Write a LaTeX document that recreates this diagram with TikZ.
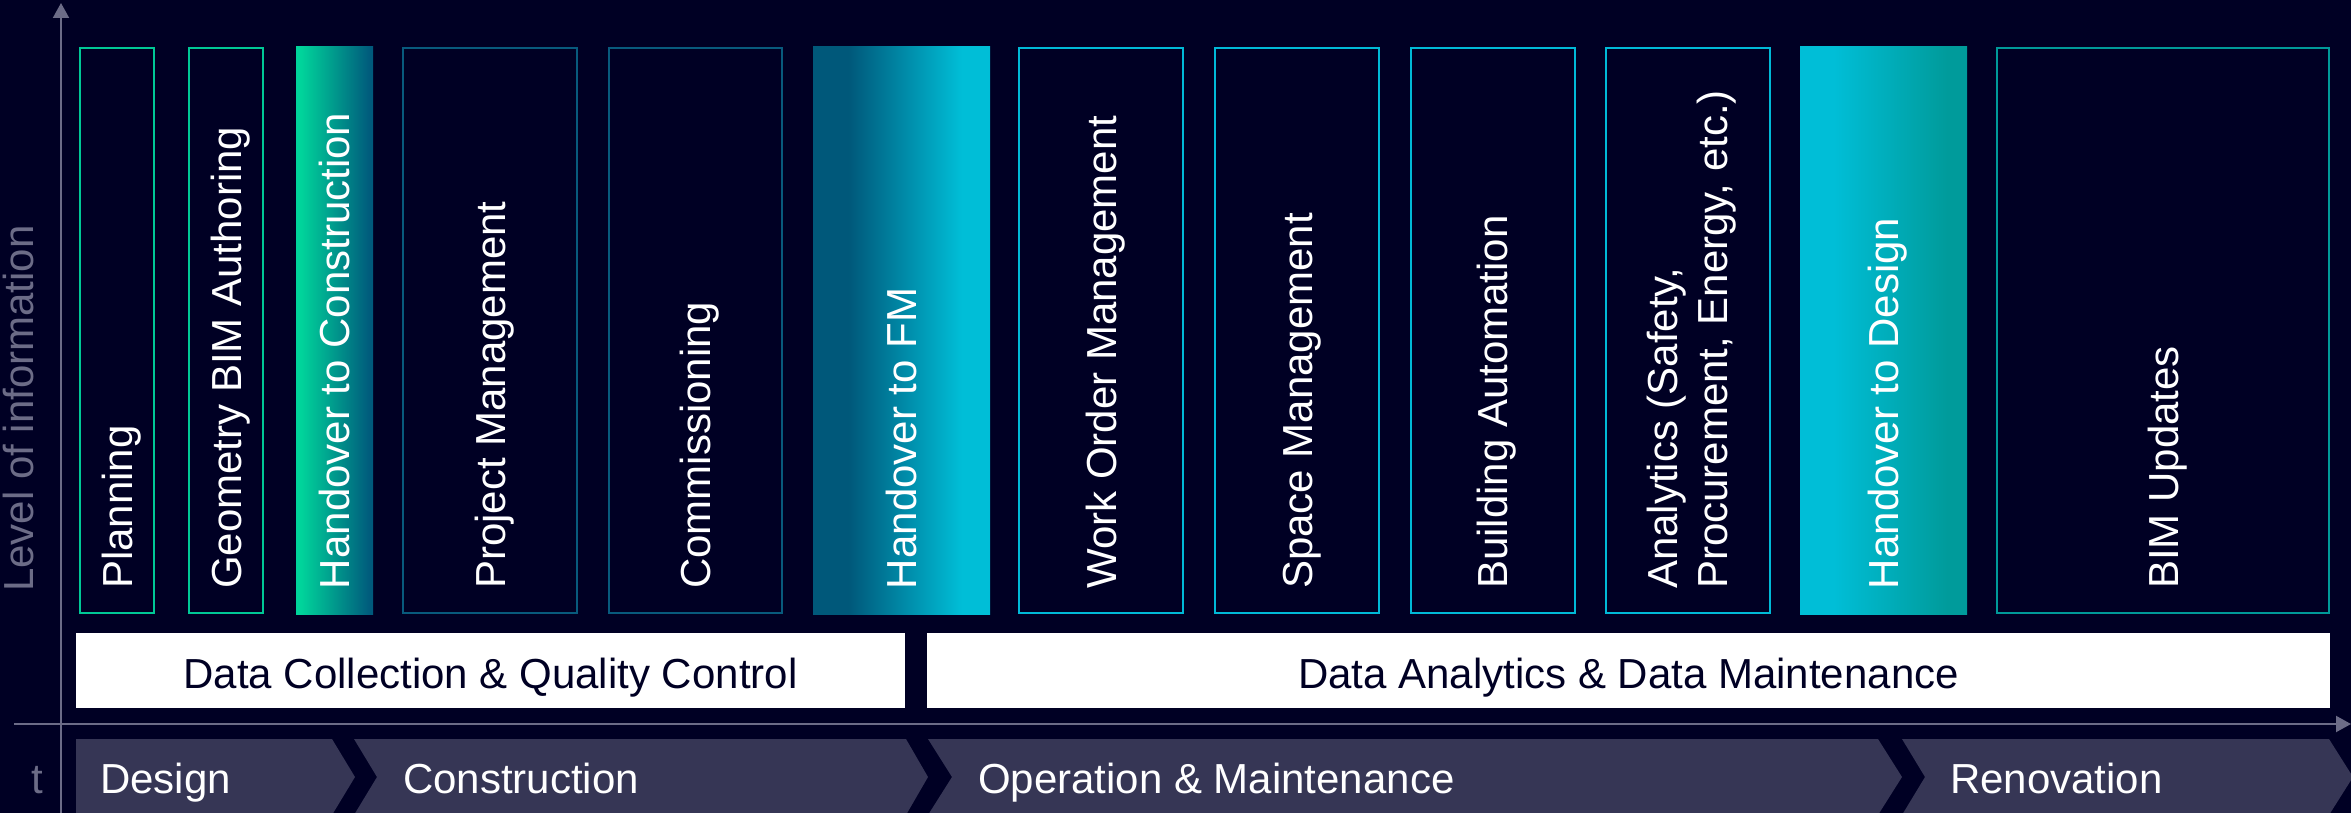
\documentclass[tikz,border=0pt]{standalone}
\usepackage{fontspec}
\setmainfont{Liberation Sans}
\usetikzlibrary{arrows.meta,calc}
\definecolor{bgc}{RGB}{0,0,36}
\definecolor{chev}{RGB}{54,54,85}
\definecolor{axisg}{RGB}{108,108,135}
\definecolor{cgreen}{RGB}{0,200,150}
\definecolor{cdteal}{RGB}{8,90,125}
\definecolor{ccyan}{RGB}{0,185,215}
\definecolor{cteal}{RGB}{0,153,153}
\definecolor{hcA}{RGB}{0,212,155}
\definecolor{hcB}{RGB}{0,90,124}
\definecolor{fmA}{RGB}{0,88,122}
\definecolor{fmB}{RGB}{0,190,215}
\definecolor{hdA}{RGB}{0,190,215}
\definecolor{hdB}{RGB}{0,155,155}
\pgfdeclarehorizontalshading{shHC}{100bp}{color(0bp)=(hcA); color(25bp)=(hcA); color(28bp)=(hcA); color(73bp)=(hcB); color(100bp)=(hcB)}
\pgfdeclarehorizontalshading{shFM}{100bp}{color(0bp)=(fmA); color(25bp)=(fmA); color(35bp)=(fmA); color(67bp)=(fmB); color(100bp)=(fmB)}
\pgfdeclarehorizontalshading{shHD}{100bp}{color(0bp)=(hdA); color(25bp)=(hdA); color(35bp)=(hdA); color(69bp)=(hdB); color(100bp)=(hdB)}
\newcommand{\myfont}{\fontsize{42pt}{50pt}\selectfont}
\begin{document}
\begin{tikzpicture}[x=1pt,y=-1pt,
  obox/.style={draw=#1, line width=2pt, fill=bgc, minimum height=565pt, inner sep=0pt},
  gbox/.style={shade, shading=#1, minimum height=567pt, inner sep=0pt},
  vlab/.style={rotate=90, anchor=base west, inner sep=0pt, text=white, font=\myfont},
  wbar/.style={fill=white, minimum height=75pt, inner sep=0pt, text=bgc, font=\myfont, text height=35pt, text depth=0pt},
  clab/.style={anchor=base west, inner sep=0pt, text=white, font=\myfont},
  axis/.style={draw=axisg, line width=2pt, -{Triangle[length=15pt,width=16pt]}}]
\useasboundingbox (0,0) rectangle (2351,813);
\fill[bgc] (0,0) rectangle (2351,813);
\clip (0,0) rectangle (2351,813);
% axes
\coordinate (yb) at (61,813);
\coordinate (yt) at (61,3);
\coordinate (xl) at (14,724);
\coordinate (xr) at (2351,724);
\draw[axis] (yb) -- (yt);
\draw[axis] (xl) -- (xr);
\node[vlab, text=axisg] (ylab) at (33,592) {Level of information};
\node[clab, text=axisg] (tlab) at (31,793) {t};
% columns
\node[obox=cgreen, minimum width=74pt] (b1) at (117,330.5) {};
\node[obox=cgreen, minimum width=74pt] (b2) at (226,330.5) {};
\node[gbox=shHC, minimum width=77pt] (b3) at (334.5,330.5) {};
\node[obox=cdteal, minimum width=174pt] (b4) at (490,330.5) {};
\node[obox=cdteal, minimum width=173pt] (b5) at (695.5,330.5) {};
\node[gbox=shFM, minimum width=177pt] (b6) at (901.5,330.5) {};
\node[obox=ccyan, minimum width=164pt] (b7) at (1101,330.5) {};
\node[obox=ccyan, minimum width=164pt] (b8) at (1297,330.5) {};
\node[obox=ccyan, minimum width=164pt] (b9) at (1492.5,330.5) {};
\node[obox=ccyan, minimum width=164pt] (b10) at (1688,330.5) {};
\node[gbox=shHD, minimum width=167pt] (b11) at (1883.5,330.5) {};
\node[obox=cteal, minimum width=332pt] (b12) at (2163,330.5) {};
% column labels
\node[vlab] (t1) at ($(b1.south)+(15,-25)$) {Planning};
\node[vlab] (t2) at ($(b2.south)+(15,-25)$) {Geometry BIM Authoring};
\node[vlab] (t3) at ($(b3.south)+(15,-25)$) {Handover to Construction};
\node[vlab] (t4) at ($(b4.south)+(15,-25)$) {Project Management};
\node[vlab] (t5) at ($(b5.south)+(15,-25)$) {Commissioning};
\node[vlab] (t6) at ($(b6.south)+(15,-25)$) {Handover to FM};
\node[vlab] (t7) at ($(b7.south)+(15,-25)$) {Work Order Management};
\node[vlab] (t8) at ($(b8.south)+(15,-25)$) {Space Management};
\node[vlab] (t9) at ($(b9.south)+(15,-25)$) {Building Automation};
\node[vlab, anchor=west, align=left] (t10) at ($(b10.south)+(4,-25)$) {Analytics (Safety,\\Procurement, Energy, etc.)};
\node[vlab] (t11) at ($(b11.south)+(15,-25)$) {Handover to Design};
\node[vlab] (t12) at ($(b12.south)+(15,-25)$) {BIM Updates};
% white bars
\node[wbar, minimum width=829pt] (w1) at (490.5,670.5) {Data Collection \& Quality Control};
\node[wbar, minimum width=1403pt] (w2) at (1628.5,670.5) {Data Analytics \& Data Maintenance};
% chevrons
\fill[chev] (76,739) -- (332,739) -- (355,777) -- (332,815) -- (76,815) -- cycle;
\fill[chev] (354,739) -- (906,739) -- (928,777) -- (906,815) -- (354,815) -- (377,777) -- cycle;
\fill[chev] (928,739) -- (1878,739) -- (1902,777) -- (1878,815) -- (928,815) -- (952,777) -- cycle;
\fill[chev] (1902,739) -- (2329,739) -- (2353,777) -- (2329,815) -- (1902,815) -- (1925,777) -- cycle;
\node[clab] (c1) at (100,793) {Design};
\node[clab] (c2) at (403,793) {Construction};
\node[clab] (c3) at (978,793) {Operation \& Maintenance};
\node[clab] (c4) at (1950,793) {Renovation};
\end{tikzpicture}
\end{document}
